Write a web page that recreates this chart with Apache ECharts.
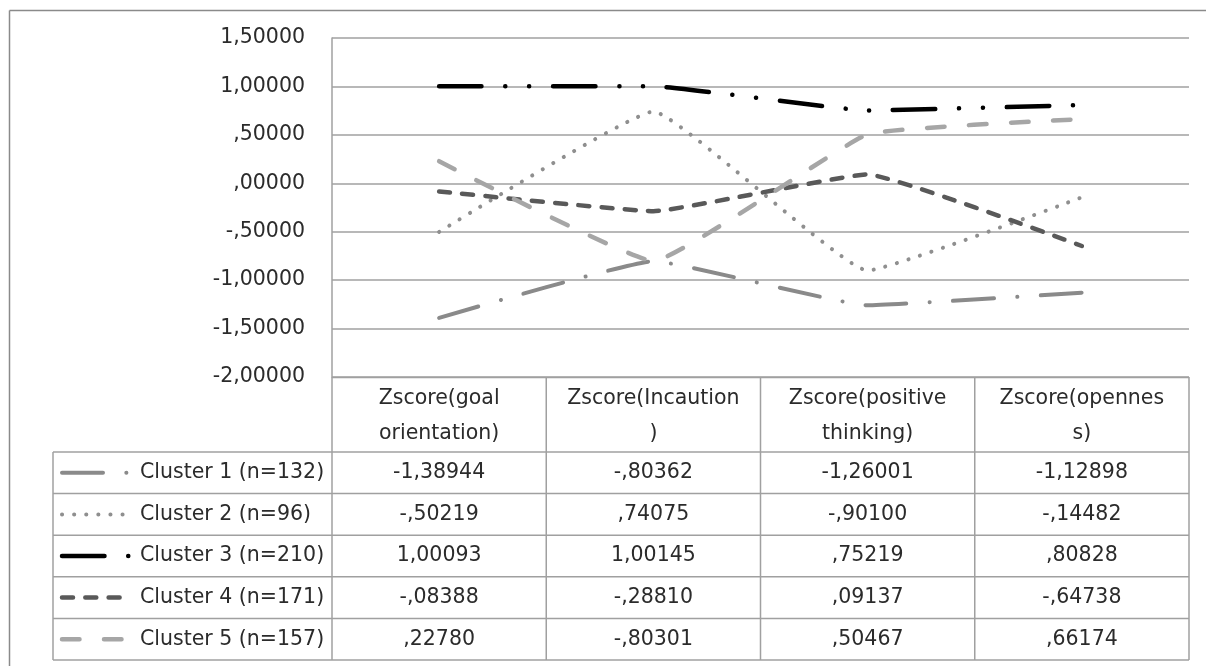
<!DOCTYPE html>
<html>
<head>
<meta charset="utf-8">
<script src="https://cdn.jsdelivr.net/npm/echarts@6/dist/echarts.min.js"></script>
<style>
html,body{margin:0;padding:0;background:#fff;}
#c{width:1206px;height:666px;}
</style>
</head>
<body>
<div id="c"></div>
<script>
// ---- data ----
const categories = ['Zscore(goal orientation)', 'Zscore(Incaution)', 'Zscore(positive thinking)', 'Zscore(openness)'];
const headerLabels = ['Zscore(goal\norientation)', 'Zscore(Incaution\n)', 'Zscore(positive\nthinking)', 'Zscore(opennes\ns)'];
const seriesNames = ['Cluster 1 (n=132)', 'Cluster 2 (n=96)', 'Cluster 3 (n=210)', 'Cluster 4 (n=171)', 'Cluster 5 (n=157)'];
const cluster1 = [-1.38944, -0.80362, -1.26001, -1.12898];
const cluster2 = [-0.50219, 0.74075, -0.90100, -0.14482];
const cluster3 = [1.00093, 1.00145, 0.75219, 0.80828];
const cluster4 = [-0.08388, -0.28810, 0.09137, -0.64738];
const cluster5 = [0.22780, -0.80301, 0.50467, 0.66174];
const yMin = -2, yMax = 1.5, yInterval = 0.5;

const seriesData = [cluster1, cluster2, cluster3, cluster4, cluster5];

// ---- styles ----
const styles = [
  {color: '#8a8a8a', width: 4, dash: [41, 23.3, 0.1, 23.3]},
  {color: '#8f8f8f', width: 4, dash: [0.1, 12]},
  {color: '#000000', width: 4.5, dash: [42.5, 23.7, 0.1, 23.7, 0.1, 23.7]},
  {color: '#595959', width: 4.5, dash: [11, 12.3]},
  {color: '#a6a6a6', width: 4.5, dash: [17.5, 24.5]}
];
const FONT = 'DejaVu Sans';
const FS = 20.5;
const TXT = '#2b2b2b';
const LINE = '#a0a0a0';

function fmt(v) {
  let s = Math.abs(v).toFixed(5).replace('.', ',');
  if (s.charAt(0) === '0') s = s.slice(1);
  return (v < 0 ? '-' : '') + s;
}

const chart = echarts.init(document.getElementById('c'), null, {renderer: 'canvas'});
chart.setOption({
  animation: false,
  backgroundColor: '#fff',
  grid: {left: 332, right: 17, top: 38, bottom: 289},
  xAxis: {
    type: 'category', data: categories, boundaryGap: true,
    axisLine: {show: false}, axisTick: {show: false}, axisLabel: {show: false}
  },
  yAxis: {
    type: 'value', min: yMin, max: yMax, interval: yInterval,
    axisLine: {show: true, lineStyle: {color: LINE, width: 1.5}},
    axisTick: {show: false},
    splitLine: {lineStyle: {color: LINE, width: 1.5}},
    axisLabel: {formatter: fmt, color: TXT, fontFamily: FONT, fontSize: FS, margin: 27}
  },
  series: seriesData.map((d, i) => ({
    name: seriesNames[i], type: 'line', data: d, symbol: 'none', smooth: 0.1,
    lineStyle: {color: styles[i].color, width: styles[i].width, type: styles[i].dash, cap: 'round'},
    z: 2 + i
  }))
});

// ---- table (built from the data arrays, positioned from the axes) ----
const n = categories.length;
const xc = categories.map((c, i) => chart.convertToPixel({xAxisIndex: 0}, i));
const band = n > 1 ? (xc[1] - xc[0]) : 200;
const colB = [];
for (let i = 0; i <= n; i++) colB.push(xc[0] - band / 2 + i * band);
const tableTop = chart.convertToPixel({yAxisIndex: 0}, yMin);
const headerH = 75;
const rowH = 41.6;
const rowsTop = tableTop + headerH;
const legendLeft = 53;
const tableBottom = rowsTop + rowH * seriesNames.length;

const g = [];
// outer border (top and left visible)
g.push({type: 'line', shape: {x1: 9.5, y1: 10.5, x2: 1206, y2: 10.5}, style: {stroke: '#8a8a8a', lineWidth: 1.5}});
g.push({type: 'line', shape: {x1: 9.5, y1: 10.5, x2: 9.5, y2: 666}, style: {stroke: '#8a8a8a', lineWidth: 1.5}});
// vertical line continuing axis down
g.push({type: 'line', shape: {x1: colB[0], y1: tableTop, x2: colB[0], y2: tableBottom}, style: {stroke: LINE, lineWidth: 1.5}});
// column verticals
for (let i = 1; i <= n; i++) {
  g.push({type: 'line', shape: {x1: colB[i], y1: tableTop, x2: colB[i], y2: tableBottom}, style: {stroke: LINE, lineWidth: 1.5}});
}
// legend left vertical
g.push({type: 'line', shape: {x1: legendLeft, y1: rowsTop, x2: legendLeft, y2: tableBottom}, style: {stroke: LINE, lineWidth: 1.5}});
// horizontal rows
g.push({type: 'line', shape: {x1: colB[0], y1: tableTop + 0.5, x2: colB[n], y2: tableTop + 0.5}, style: {stroke: LINE, lineWidth: 1.5}});
for (let r = 0; r <= seriesNames.length; r++) {
  const y = rowsTop + r * rowH;
  g.push({type: 'line', shape: {x1: legendLeft, y1: y, x2: colB[n], y2: y}, style: {stroke: LINE, lineWidth: 1.5}});
}
// headers
headerLabels.forEach((h, i) => {
  g.push({type: 'text', x: xc[i], y: tableTop + headerH / 2 + 2,
    style: {text: h, fill: TXT, font: FS + 'px "' + FONT + '"', align: 'center', verticalAlign: 'middle', lineHeight: 35}});
});
// rows
seriesNames.forEach((name, r) => {
  const yc = rowsTop + r * rowH + rowH / 2;
  const st = styles[r];
  const keyEnd = (r === 0 || r === 2) ? 131 : 124;
  g.push({type: 'line', shape: {x1: 62, y1: yc, x2: keyEnd, y2: yc},
    style: {stroke: st.color, lineWidth: st.width, lineDash: st.dash, lineCap: 'round'}});
  g.push({type: 'text', x: 140, y: yc,
    style: {text: name, fill: TXT, font: FS + 'px "' + FONT + '"', align: 'left', verticalAlign: 'middle'}});
  seriesData[r].forEach((v, i) => {
    g.push({type: 'text', x: xc[i], y: yc,
      style: {text: fmt(v), fill: TXT, font: FS + 'px "' + FONT + '"', align: 'center', verticalAlign: 'middle'}});
  });
});
chart.setOption({graphic: g});
</script>
</body>
</html>
